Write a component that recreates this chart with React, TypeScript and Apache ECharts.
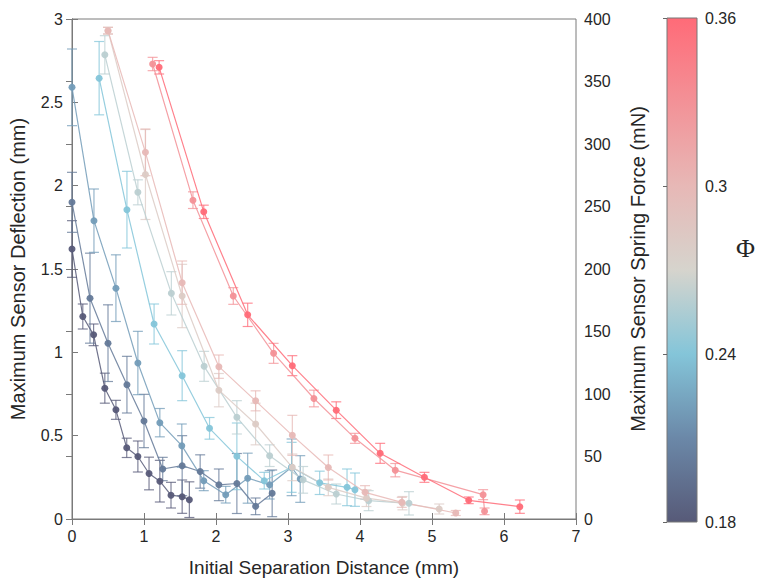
import React, { useEffect, useRef } from "react";
import * as echarts from "echarts";

// Φ value of each curve (colour comes from the colour bar)
const phiValues = [0.18, 0.2, 0.22, 0.24, 0.26, 0.28, 0.3, 0.33, 0.36];

// Series data: x = initial separation (mm), y = max deflection (mm), e = error (mm)
const s1X = [0, 0.15, 0.3, 0.456, 0.61, 0.76, 0.915, 1.07, 1.22, 1.375, 1.53, 1.63];
const s1Y = [1.62, 1.215, 1.105, 0.785, 0.655, 0.427, 0.375, 0.273, 0.227, 0.143, 0.134, 0.116];
const s1E = [0.17, 0.075, 0.065, 0.09, 0.057, 0.058, 0.093, 0.098, 0.125, 0.077, 0.1, 0.107];

const s2X = [0, 0.25, 0.5, 0.763, 1.0, 1.26, 1.53, 1.78, 2.04, 2.29, 2.55, 2.78];
const s2Y = [1.9, 1.325, 1.055, 0.806, 0.588, 0.3, 0.32, 0.285, 0.205, 0.213, 0.076, 0.154];
const s2E = [0.18, 0.27, 0.23, 0.17, 0.16, 0.07, 0.18, 0.1, 0.095, 0.18, 0.05, 0.14];

const s3X = [0, 0.305, 0.61, 0.915, 1.22, 1.525, 1.83, 2.135, 2.44, 2.745, 3.05, 3.17];
const s3Y = [2.59, 1.79, 1.385, 0.936, 0.578, 0.44, 0.23, 0.146, 0.245, 0.205, 0.31, 0.24];
const s3E = [0.23, 0.19, 0.2, 0.19, 0.085, 0.13, 0.06, 0.05, 0.15, 0.085, 0.17, 0.14];

const s4X = [0.377, 0.763, 1.14, 1.53, 1.91, 2.29, 2.67, 3.05, 3.44, 3.82, 3.93];
const s4Y = [2.645, 1.856, 1.17, 0.86, 0.544, 0.376, 0.23, 0.31, 0.217, 0.19, 0.176];
const s4E = [0.22, 0.23, 0.12, 0.15, 0.065, 0.2, 0.05, 0.15, 0.07, 0.11, 0.1];

const s5X = [0.456, 0.915, 1.38, 1.835, 2.29, 2.745, 3.21, 3.67, 4.12, 4.68];
const s5Y = [2.785, 1.96, 1.354, 0.916, 0.61, 0.38, 0.235, 0.15, 0.11, 0.094];
const s5E = [0.115, 0.075, 0.13, 0.09, 0.1, 0.065, 0.08, 0.06, 0.06, 0.07];

const s6X = [0.5, 1.02, 1.53, 2.04, 2.55, 3.06, 3.56, 4.09, 4.59, 5.1];
const s6Y = [2.93, 2.067, 1.338, 0.773, 0.57, 0.31, 0.19, 0.125, 0.095, 0.06];
const s6E = [0.02, 0.27, 0.19, 0.1, 0.125, 0.08, 0.05, 0.05, 0.04, 0.03];

const s7X = [0.5, 1.02, 1.53, 2.04, 2.55, 3.06, 3.56, 4.07, 4.58, 5.33];
const s7Y = [2.93, 2.2, 1.418, 0.914, 0.709, 0.502, 0.309, 0.16, 0.1, 0.036];
const s7E = [0.02, 0.14, 0.13, 0.07, 0.06, 0.12, 0.075, 0.04, 0.03, 0.015];

const s8X = [1.12, 1.68, 2.24, 2.8, 3.36, 3.93, 4.49, 5.71, 5.73];
const s8Y = [2.73, 1.913, 1.338, 0.994, 0.723, 0.484, 0.293, 0.146, 0.046];
const s8E = [0.04, 0.05, 0.05, 0.06, 0.05, 0.03, 0.04, 0.03, 0.02];

const s9X = [1.21, 1.83, 2.44, 3.06, 3.67, 4.28, 4.895, 5.51, 6.22];
const s9Y = [2.71, 1.843, 1.225, 0.92, 0.653, 0.394, 0.25, 0.112, 0.074];
const s9E = [0.04, 0.04, 0.07, 0.06, 0.05, 0.06, 0.03, 0.02, 0.04];

const seriesX = [s1X, s2X, s3X, s4X, s5X, s6X, s7X, s8X, s9X];
const seriesY = [s1Y, s2Y, s3Y, s4Y, s5Y, s6Y, s7Y, s8Y, s9Y];
const seriesE = [s1E, s2E, s3E, s4E, s5E, s6E, s7E, s8E, s9E];

// Axis ranges / ticks
const xTicks = [0, 7, 1];
const yLeft = [0, 3, 0.5];
const yRight = [0, 400, 50];
const phiRange = [0.18, 0.36, 0.06];

// colour bar stops (Φ → colour)
const cbStops: [number, string][] = [
  [0.18, "#575a78"],
  [0.21, "#6b88a8"],
  [0.24, "#84c5d9"],
  [0.27, "#d6d4cd"],
  [0.3, "#e7b8b6"],
  [0.36, "#ff6b78"],
];

function hexToRgb(h: string) {
  const n = parseInt(h.slice(1), 16);
  return [(n >> 16) & 255, (n >> 8) & 255, n & 255];
}
function colorFor(phi: number) {
  for (let i = 0; i < cbStops.length - 1; i++) {
    const [p0, c0] = cbStops[i];
    const [p1, c1] = cbStops[i + 1];
    if (phi <= p1 + 1e-9) {
      const t = Math.max(0, Math.min(1, (phi - p0) / (p1 - p0)));
      const a = hexToRgb(c0);
      const b = hexToRgb(c1);
      const r = a.map((v, k) => Math.round(v + (b[k] - v) * t));
      return `rgb(${r[0]},${r[1]},${r[2]})`;
    }
  }
  return cbStops[cbStops.length - 1][1];
}

const FONT = "'Liberation Sans', Arial, Helvetica, sans-serif";
const TXT = "#262626";
const AXC = "#7a7a7a";

export default function App() {
  const ref = useRef<HTMLDivElement>(null);
  useEffect(() => {
    if (!ref.current) return;
    const chart = echarts.init(ref.current, undefined, { renderer: "svg" });

    const series: any[] = [];
    phiValues.forEach((phi, i) => {
      const col = colorFor(phi);
      const pts = seriesX[i].map((x, j) => [x, seriesY[i][j], seriesE[i][j]]);
      series.push({
        type: "custom",
        xAxisIndex: 0,
        yAxisIndex: 0,
        data: pts,
        z: 2,
        renderItem: (params: any, api: any) => {
          const x = api.value(0);
          const y = api.value(1);
          const e = api.value(2);
          const t = api.coord([x, y + e]);
          const b = api.coord([x, Math.max(0, y - e)]);
          const hw = 5;
          const st = { stroke: col, lineWidth: 1.2, opacity: 0.75 };
          return {
            type: "group",
            children: [
              { type: "line", shape: { x1: t[0], y1: t[1], x2: b[0], y2: b[1] }, style: st },
              { type: "line", shape: { x1: t[0] - hw, y1: t[1], x2: t[0] + hw, y2: t[1] }, style: st },
              { type: "line", shape: { x1: b[0] - hw, y1: b[1], x2: b[0] + hw, y2: b[1] }, style: st },
            ],
          };
        },
      });
      series.push({
        type: "line",
        name: "Φ=" + phi,
        xAxisIndex: 0,
        yAxisIndex: 0,
        data: pts.map((p) => [p[0], p[1]]),
        symbol: "circle",
        symbolSize: 7,
        z: 3,
        lineStyle: { color: col, width: 1.2, opacity: 0.85 },
        itemStyle: { color: col, opacity: 0.95 },
      });
    });

    const axisLabelStyle = { color: TXT, fontSize: 16, fontFamily: FONT };
    const nameStyle = { color: TXT, fontSize: 19, fontFamily: FONT };
    const yNameStyle = { color: TXT, fontSize: 20, fontFamily: FONT };

    chart.setOption({
      animation: false,
      backgroundColor: "#ffffff",
      grid: [
        { left: 72, top: 19, width: 504, height: 503, show: true, borderColor: AXC, borderWidth: 1 },
        { left: 667, top: 18, width: 30, height: 504 },
      ],
      xAxis: [
        {
          type: "value",
          gridIndex: 0,
          min: xTicks[0],
          max: xTicks[1],
          interval: xTicks[2],
          name: "Initial Separation Distance (mm)",
          nameLocation: "middle",
          nameGap: 39,
          nameTextStyle: nameStyle,
          axisLine: { show: true, lineStyle: { color: AXC } },
          axisTick: { show: true, inside: true, length: 6, lineStyle: { color: AXC } },
          axisLabel: { ...axisLabelStyle, margin: 9 },
          splitLine: { show: false },
        },
        {
          type: "value",
          gridIndex: 0,
          position: "top",
          min: xTicks[0],
          max: xTicks[1],
          interval: xTicks[2],
          axisLine: { show: true, lineStyle: { color: AXC } },
          axisTick: { show: true, inside: true, length: 6, lineStyle: { color: AXC } },
          axisLabel: { show: false },
          splitLine: { show: false },
        },
        { type: "value", gridIndex: 1, show: false, min: 0, max: 1 },
      ],
      yAxis: [
        {
          type: "value",
          gridIndex: 0,
          min: yLeft[0],
          max: yLeft[1],
          interval: yLeft[2],
          name: "Maximum Sensor Deflection (mm)",
          nameLocation: "middle",
          nameGap: 44,
          nameTextStyle: yNameStyle,
          axisLine: { show: true, lineStyle: { color: AXC } },
          axisTick: { show: true, inside: true, length: 6, lineStyle: { color: AXC } },
          axisLabel: { ...axisLabelStyle, margin: 9 },
          splitLine: { show: false },
        },
        {
          type: "value",
          gridIndex: 0,
          position: "right",
          min: yRight[0],
          max: yRight[1],
          interval: yRight[2],
          name: "Maximum Sensor Spring Force (mN)",
          nameLocation: "middle",
          nameGap: 52,
          nameTextStyle: yNameStyle,
          axisLine: { show: true, lineStyle: { color: AXC } },
          axisTick: { show: true, inside: true, length: 6, lineStyle: { color: AXC } },
          axisLabel: { ...axisLabelStyle, margin: 8 },
          splitLine: { show: false },
        },
        {
          type: "value",
          gridIndex: 1,
          position: "right",
          min: phiRange[0],
          max: phiRange[1],
          interval: phiRange[2],
          axisLine: { show: false },
          axisTick: { show: true, inside: true, length: 4, lineStyle: { color: "#666" } },
          axisLabel: {
            ...axisLabelStyle,
            fontSize: 16,
            margin: 8,
            formatter: (v: number) => String(parseFloat(v.toFixed(2))),
          },
          splitLine: { show: false },
        },
      ],
      graphic: [
        {
          type: "rect",
          z: -1,
          shape: { x: 667, y: 18, width: 30, height: 504 },
          style: {
            fill: new echarts.graphic.LinearGradient(
              0,
              0,
              0,
              1,
              cbStops
                .slice()
                .reverse()
                .map(([p, c]) => ({ offset: (phiRange[1] - p) / (phiRange[1] - phiRange[0]), color: c }))
            ),
            stroke: "#777",
            lineWidth: 1,
          },
        },
        {
          type: "text",
          left: 736,
          top: 235,
          style: {
            text: "Φ",
            fontSize: 26,
            fontFamily: "'Liberation Serif', 'DejaVu Serif', serif",
            fill: TXT,
          },
        },
      ],
      series,
    });

    return () => chart.dispose();
  }, []);

  return (
    <div
      ref={ref}
      style={{ position: "fixed", left: 0, top: 0, width: 758, height: 582, background: "#fff" }}
    />
  );
}
